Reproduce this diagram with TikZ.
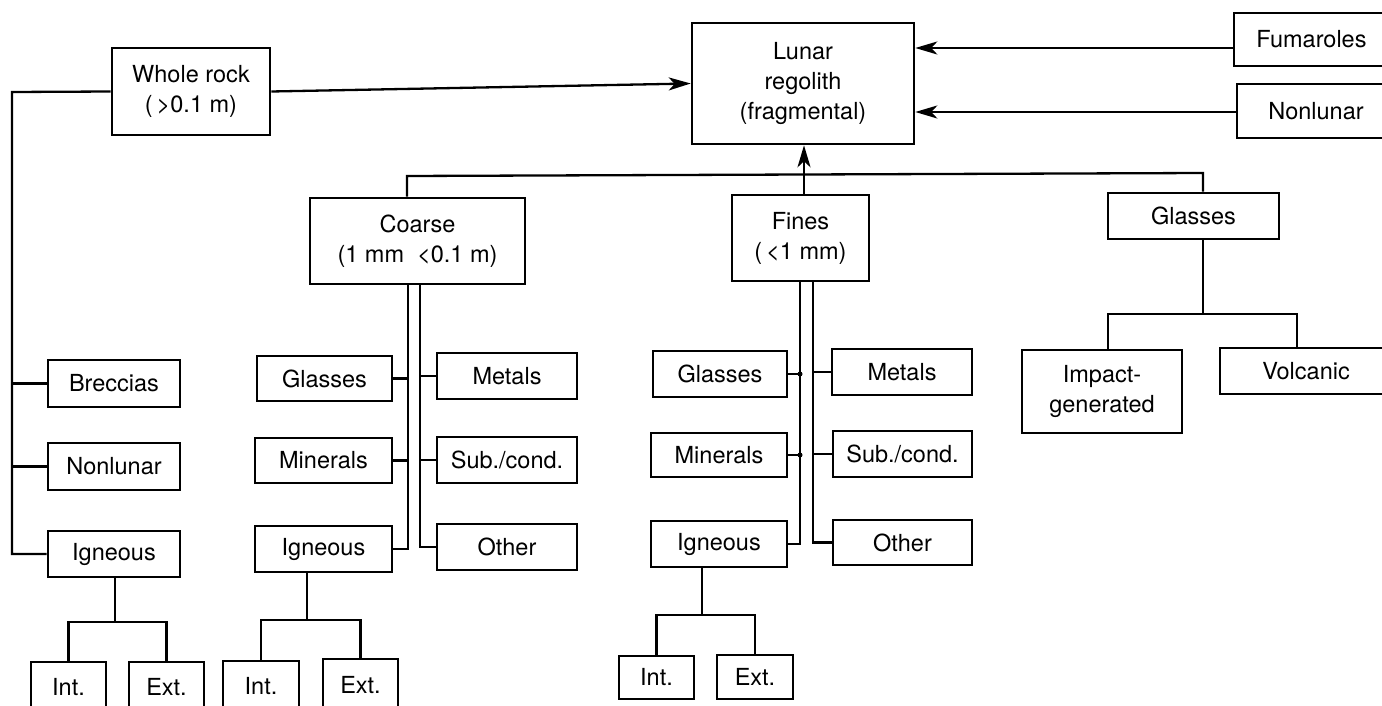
\documentclass[tikz,border=0pt]{standalone}
\usepackage{fontspec}
\setmainfont{TeX Gyre Heros}
\usetikzlibrary{arrows.meta}
\tikzset{
  bx/.style={draw, line width=2.6pt, inner sep=0pt, align=center, font=\fontsize{23.5}{30}\selectfont},
  ln/.style={line width=2.3pt},
  arr/.style={line width=2.3pt, -{Stealth[length=22pt,width=13pt,inset=6pt]}}
}
\newcommand\mybox[6]{\node[bx,minimum width={#4-#2},minimum height={#5-#3}] (#1) at ({(#2+#4)/2},{(#3+#5)/2}) {#6};}
\begin{document}
\begin{tikzpicture}[x=1pt,y=-1pt]
\useasboundingbox (0,0) rectangle (1382,706);
\fill[white] (0,0) rectangle (1382,706);
% boxes
\mybox{wr}{112}{48}{270}{135}{Whole rock\\(\,>0.1 m)}
\mybox{lun}{692}{23}{914}{144}{Lunar\\regolith\\(fragmental)}
\mybox{fum}{1234}{13}{1389}{66}{Fumaroles}
\mybox{nlt}{1237}{84}{1395}{138}{Nonlunar}
\mybox{crs}{310}{198}{525}{284}{Coarse\\(1 mm \ <0.1 m)}
\mybox{fin}{732}{195}{869}{281}{Fines\\(\,<1 mm)}
\mybox{gls}{1108}{193}{1279}{239}{Glasses}
\mybox{imp}{1022}{350}{1182}{433}{Impact-\\generated}
\mybox{vol}{1220}{348}{1392}{394}{Volcanic}
\mybox{brc}{48}{360}{180}{407}{Breccias}
\mybox{nll}{48}{443}{180}{490}{Nonlunar}
\mybox{igl}{48}{531}{180}{577}{Igneous}
\mybox{inta}{31}{662}{106}{712}{Int.}
\mybox{exta}{129}{662}{204}{712}{Ext.}
\mybox{cg}{257}{356}{392}{401}{Glasses}
\mybox{cm}{255}{438}{392}{483}{Minerals}
\mybox{ci}{255}{526}{392}{572}{Igneous}
\mybox{cmt}{437}{353}{577}{399}{Metals}
\mybox{cs}{437}{437}{577}{483}{Sub./cond.}
\mybox{co}{437}{524}{577}{570}{Other}
\mybox{intb}{223}{661}{299}{712}{Int.}
\mybox{extb}{323}{659}{398}{712}{Ext.}
\mybox{fg}{653}{351}{787}{397}{Glasses}
\mybox{fm}{651}{433}{787}{477}{Minerals}
\mybox{fi}{651}{521}{787}{567}{Igneous}
\mybox{fmt}{832}{349}{972}{395}{Metals}
\mybox{fs}{833}{431}{972}{477}{Sub./cond.}
\mybox{fo}{833}{520}{972}{565}{Other}
\mybox{intc}{619}{656}{694}{699}{Int.}
\mybox{extc}{717}{655}{793}{699}{Ext.}
% whole rock branch
\coordinate (L) at (12,92);
\draw[ln] (wr.west) -- (L) |- (igl.west);
\draw[ln] (L |- brc.west) -- (brc.west);
\draw[ln] (L |- nll.west) -- (nll.west);
\draw[arr] (wr.east) -- (lun.west);
% inputs from right
\draw[arr] (fum.west |- 0,48) -- (lun.east |- 0,48);
\draw[arr] (nlt.west |- 0,112) -- (lun.east |- 0,112);
% main bus
\coordinate (H1) at (407,176);
\coordinate (H2) at (1203,173);
\coordinate (F) at (804,175);
\draw[ln] (crs.north -| H1) -- (H1) -- (H2) -- (gls.north -| H2);
\draw[ln] (F) -- (fin.north -| F);
\draw[arr] (F) -- (lun.south -| F);
% coarse
\coordinate (cl) at (408,0);
\coordinate (cr) at (420,0);
\draw[ln] (crs.south -| cl) |- (ci.east);
\draw[ln] (crs.south -| cr) |- (co.west);
\draw[ln] (cg.east) -- (cg.east -| cl);
\draw[ln] (cm.east) -- (cm.east -| cl);
\draw[ln] (cmt.west) -- (cmt.west -| cr);
\draw[ln] (cs.west) -- (cs.west -| cr);
% fines
\coordinate (fl) at (800,0);
\coordinate (fr) at (813,0);
\draw[ln] (fin.south -| fl) |- (fi.east);
\draw[ln] (fin.south -| fr) |- (fo.west);
\draw[ln] (fg.east) -- (fg.east -| fl);
\draw[ln] (fm.east) -- (fm.east -| fl);
\draw[ln] (fmt.west) -- (fmt.west -| fr);
\draw[ln] (fs.west) -- (fs.west -| fr);
\fill (fg.east -| fl) circle (2.5);
\fill (fm.east -| fl) circle (2.5);
% igneous subtrees
\coordinate (ja) at (115,622);
\draw[ln] (igl.south -| ja) -- (ja);
\draw[ln] (inta.north) |- (ja) -| (exta.north);
\coordinate (jb) at (307,620);
\draw[ln] (ci.south -| jb) -- (jb);
\draw[ln] (intb.north) |- (jb) -| (extb.north);
\coordinate (jc) at (702,615);
\draw[ln] (fi.south -| jc) -- (jc);
\draw[ln] (intc.north) |- (jc) -| (extc.north);
% glasses subtree
\coordinate (jd) at (1203,314);
\draw[ln] (gls.south -| jd) -- (jd);
\draw[ln] (imp.north -| 1108,0) |- (jd) -| (vol.north -| 1297,0);
\end{tikzpicture}
\end{document}
